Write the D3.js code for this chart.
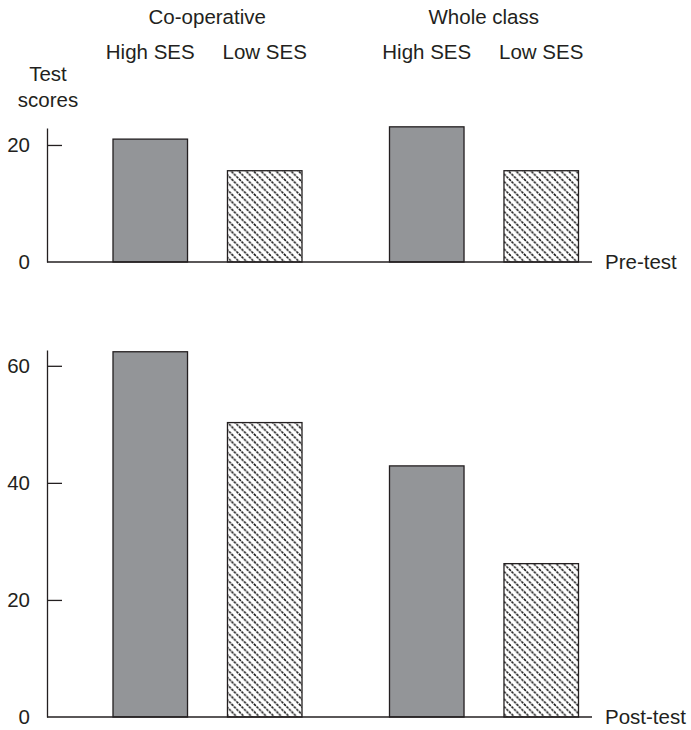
<!DOCTYPE html>
<html>
<head>
<meta charset="utf-8">
<script src="https://cdn.jsdelivr.net/npm/d3@7"></script>
<style>
  html, body { margin: 0; padding: 0; background: #fff; }
  text { font-family: "Liberation Sans", Arial, Helvetica, sans-serif; fill: #231f20; }
</style>
</head>
<body>
<script>
// ---- data ----
const groups = ["Co-operative", "Whole class"];
const ses = ["High SES", "Low SES"];
const preTest = [21.0, 15.6, 23.1, 15.6];   // Co-op High, Co-op Low, Whole High, Whole Low
const postTest = [62.4, 50.3, 42.9, 26.2];
const preTicks = [0, 20];
const postTicks = [0, 20, 40, 60];
const panelNames = ["Pre-test", "Post-test"];

const W = 691, H = 730;
const ink = "#231f20";
const grey = "#939598";
const FS = "20.5px";

const svg = d3.select("body").append("svg")
  .attr("width", W).attr("height", H);

// hatch pattern: diagonal "\" lines with a stepped (dashed) look
const defs = svg.append("defs");
const T = 7.5;
const pat = defs.append("pattern")
  .attr("id", "hatch").attr("patternUnits", "userSpaceOnUse")
  .attr("width", T).attr("height", T);
pat.append("rect").attr("width", T).attr("height", T).attr("fill", "#fff");
pat.append("path")
  .attr("d", `M0,0 L${T},${T} M${-T / 2},${T / 2} L${T / 2},${T * 1.5} M${T / 2},${-T / 2} L${T * 1.5},${T / 2}`)
  .attr("stroke", "#111").attr("stroke-width", 1.5)
  .attr("stroke-dasharray", "2.6,0.9");
// keep only main diagonal (clean tiling)
pat.select("path").attr("d", `M-1,-1 L${T + 1},${T + 1} M-1,${T - 1} L1,${T + 1} M${T - 1},-1 L${T + 1},1`);

// x scales
const xGroup = d3.scaleBand().domain(groups).range([69, 622]).paddingInner(0).paddingOuter(0);
const xSes = d3.scaleBand().domain(ses).range([44, 233]).paddingInner(0.349).paddingOuter(0);

const axisX = 47, lineEnd = 592;

const records = (vals) => groups.flatMap((g, gi) => ses.map((s, si) => ({ g, s, v: vals[gi * 2 + si] })));

function panel(vals, ticks, y, name) {
  const g = svg.append("g");
  const data = records(vals);
  g.selectAll("rect.bar").data(data).join("rect")
    .attr("class", "bar")
    .attr("x", d => xGroup(d.g) + xSes(d.s))
    .attr("width", xSes.bandwidth())
    .attr("y", d => y(d.v))
    .attr("height", d => y(0) - y(d.v))
    .attr("fill", d => d.s === "High SES" ? grey : "url(#hatch)")
    .attr("stroke", ink).attr("stroke-width", 1.3);

  const ax = g.append("g").attr("transform", `translate(${axisX},0)`)
    .call(d3.axisLeft(y).tickValues(ticks).tickSize(-15).tickSizeOuter(0).tickPadding(17).tickFormat(d3.format("d")));
  ax.selectAll("path, line").attr("stroke", ink).attr("stroke-width", 1.3);
  ax.selectAll("text").style("font-size", FS).attr("fill", ink)
    .style("font-family", "'Liberation Sans', Arial, sans-serif");
  ax.selectAll(".tick").filter(d => d === 0).select("line").remove();

  g.append("line")
    .attr("x1", axisX).attr("x2", lineEnd)
    .attr("y1", y(0)).attr("y2", y(0))
    .attr("stroke", ink).attr("stroke-width", 1.3);

  g.append("text").attr("x", 605).attr("y", y(0)).attr("dy", "0.35em")
    .style("font-size", FS).text(name);
}

const yPre = d3.scaleLinear().domain([0, 22.9]).range([262, 128]);
const yPost = d3.scaleLinear().domain([0, 62.7]).range([717, 350]);

panel(preTest, preTicks, yPre, panelNames[0]);
panel(postTest, postTicks, yPost, panelNames[1]);

// header labels
svg.selectAll("text.grp").data(groups).join("text")
  .attr("class", "grp")
  .attr("x", d => xGroup(d) + xGroup.bandwidth() / 2)
  .attr("y", 24).attr("text-anchor", "middle")
  .style("font-size", FS).text(d => d);

const subs = groups.flatMap(g => ses.map(s => ({ g, s })));
svg.selectAll("text.ses").data(subs).join("text")
  .attr("class", "ses")
  .attr("x", d => xGroup(d.g) + xSes(d.s) + xSes.bandwidth() / 2)
  .attr("y", 59).attr("text-anchor", "middle")
  .style("font-size", FS).text(d => d.s);

svg.append("text").attr("x", 48).attr("y", 81).attr("text-anchor", "middle")
  .style("font-size", FS).text("Test");
svg.append("text").attr("x", 48).attr("y", 107).attr("text-anchor", "middle")
  .style("font-size", FS).text("scores");
</script>
</body>
</html>
